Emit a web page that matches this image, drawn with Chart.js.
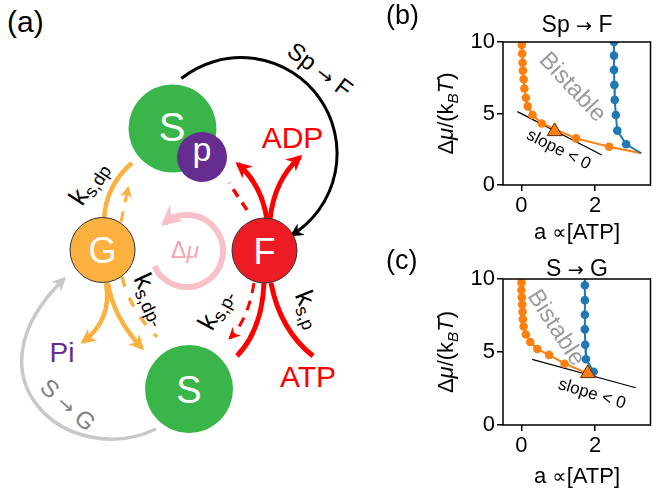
<!DOCTYPE html>
<html>
<head>
<meta charset="UTF-8">
<title>Sp - F bistability</title>
<script src="https://cdn.jsdelivr.net/npm/chart.js@4"></script>
<style>
  body { margin: 0; background: #fff; }
  #wrap { position: relative; width: 660px; height: 491px; overflow: hidden; background: #fff; }
  #wrap svg { position: absolute; left: 0; top: 0; }
  #wrap canvas { position: absolute; }
</style>
</head>
<body>
<div id="wrap">
<svg width="380" height="491" font-family="Liberation Sans, Arial, sans-serif">
  <defs>
    <marker id="mBlack" viewBox="0 0 10 10" refX="8" refY="5" markerWidth="4.5" markerHeight="4.5" orient="auto"><path d="M0,0 L10,5 L0,10 L3,5 z" fill="#000"/></marker>
    <marker id="mRed" viewBox="0 0 10 10" refX="8" refY="5" markerWidth="3.2" markerHeight="3.2" orient="auto"><path d="M0,0 L10,5 L0,10 L3,5 z" fill="#ff0000"/></marker>
    <marker id="mRedS" viewBox="0 0 10 10" refX="8" refY="5" markerWidth="4" markerHeight="4" orient="auto"><path d="M0,0 L10,5 L0,10 L3,5 z" fill="#ff0000"/></marker>
    <marker id="mOrange" viewBox="0 0 10 10" refX="8" refY="5" markerWidth="3.4" markerHeight="3.4" orient="auto"><path d="M0,0 L10,5 L0,10 L3,5 z" fill="#fbb040"/></marker>
    <marker id="mOrangeS" viewBox="0 0 10 10" refX="8" refY="5" markerWidth="4" markerHeight="4" orient="auto"><path d="M0,0 L10,5 L0,10 L3,5 z" fill="#fbb040"/></marker>
    <marker id="mGray" viewBox="0 0 10 10" refX="8" refY="5" markerWidth="4" markerHeight="4" orient="auto"><path d="M0,0 L10,5 L0,10 L3,5 z" fill="#c8c8c8"/></marker>
    <marker id="mPink" viewBox="0 0 10 10" refX="8" refY="5" markerWidth="3.4" markerHeight="3.4" orient="auto"><path d="M0,0 L10,5 L0,10 L3,5 z" fill="#f8c0c8"/></marker>
  </defs>

  <text x="7" y="32" font-size="30">(a)</text>

  <!-- Sp -> F -->
  <path d="M 181.3 78.5 A 96 96 0 1 1 292 235" fill="none" stroke="#000" stroke-width="3" marker-end="url(#mBlack)"/>
  <text transform="translate(320,70) rotate(37)" text-anchor="middle" y="8" font-size="24">Sp <tspan font-family="DejaVu Sans" font-size="20">→</tspan> F</text>

  <!-- S -> G -->
  <path d="M 156 429 C 70 470, -40 380, 64 279" fill="none" stroke="#c8c8c8" stroke-width="3.5" marker-end="url(#mGray)"/>
  <text transform="translate(68,405) rotate(42)" text-anchor="middle" y="8" font-size="24" fill="#808080">S <tspan font-family="DejaVu Sans" font-size="20">→</tspan> G</text>

  <!-- delta mu cycle -->
  <path d="M 154.4 266.2 A 36 36 0 1 0 163.9 223.4" fill="none" stroke="#f8c0c8" stroke-width="6" marker-end="url(#mPink)"/>
  <text x="185" y="258" text-anchor="middle" font-size="23" fill="#f4a5b0">Δ<tspan font-style="italic">μ</tspan></text>

  <!-- orange (G) arrows -->
  <path d="M 104 219 Q 106 185 132 163" fill="none" stroke="#fbb040" stroke-width="4.5"/>
  <path d="M 121 222 L 128 188" fill="none" stroke="#fbb040" stroke-width="3" stroke-dasharray="11 9" marker-end="url(#mOrangeS)"/>
  <path d="M 106 283 C 110 305, 105 325, 83 342" fill="none" stroke="#fbb040" stroke-width="4.5" marker-end="url(#mOrange)"/>
  <path d="M 108 283 C 112 310, 125 330, 142 348" fill="none" stroke="#fbb040" stroke-width="4.5" marker-end="url(#mOrange)"/>
  <path d="M 122 277 Q 130 310 157 337" fill="none" stroke="#fbb040" stroke-width="3.5" stroke-dasharray="10 12"/>

  <!-- red (F) arrows -->
  <path d="M 267 220 Q 262 185 238 164" fill="none" stroke="#ff0000" stroke-width="5" marker-end="url(#mRed)"/>
  <path d="M 270 220 Q 274 180 300 157" fill="none" stroke="#ff0000" stroke-width="5" marker-end="url(#mRed)"/>
  <path d="M 247 210 L 229 183" fill="none" stroke="#ff0000" stroke-width="3.5" stroke-dasharray="9 7"/>
  <path d="M 264 283 Q 262 330 237 356" fill="none" stroke="#ff0000" stroke-width="5"/>
  <path d="M 271 283 Q 280 330 313 356" fill="none" stroke="#ff0000" stroke-width="5"/>
  <path d="M 254 283 Q 248 320 230 338" fill="none" stroke="#ff0000" stroke-width="3" stroke-dasharray="10 8" marker-end="url(#mRedS)"/>

  <!-- nodes -->
  <circle cx="172.5" cy="128.5" r="44" fill="#39b54a"/>
  <text x="172" y="141" text-anchor="middle" font-size="40" fill="#fff">S</text>
  <circle cx="202" cy="157" r="25" fill="#662d91"/>
  <text x="202" y="161" text-anchor="middle" font-size="34" fill="#fff">p</text>
  <circle cx="102.5" cy="250" r="32.5" fill="#fbb040" stroke="#333" stroke-width="1"/>
  <text x="102.5" y="263" text-anchor="middle" font-size="36" fill="#fff">G</text>
  <circle cx="264.5" cy="250.5" r="32.5" fill="#ed1c24" stroke="#333" stroke-width="1"/>
  <text x="264.5" y="263.5" text-anchor="middle" font-size="36" fill="#fff">F</text>
  <circle cx="189" cy="389" r="44" fill="#39b54a"/>
  <text x="189" y="402.5" text-anchor="middle" font-size="38" fill="#fff">S</text>

  <!-- labels -->
  <text x="292.5" y="148" text-anchor="middle" font-size="30" fill="#ff0000">ADP</text>
  <text x="308" y="387" text-anchor="middle" font-size="30" fill="#ff0000">ATP</text>
  <text x="62" y="362" text-anchor="middle" font-size="28" fill="#662d91">Pi</text>
  <text transform="translate(90,184) rotate(-57)" text-anchor="middle" y="6" font-size="26">k<tspan font-size="18" dy="5">s,dp</tspan></text>
  <text transform="translate(150,300) rotate(65)" text-anchor="middle" y="6" font-size="26">k<tspan font-size="18" dy="5">s,dp-</tspan></text>
  <text transform="translate(217,310) rotate(-62)" text-anchor="middle" y="6" font-size="26">k<tspan font-size="18" dy="5">s,p-</tspan></text>
  <text transform="translate(307,310) rotate(68)" text-anchor="middle" y="6" font-size="26">k<tspan font-size="18" dy="5">s,p</tspan></text>
</svg>
<canvas id="chartB" width="280" height="245" style="left:380px;top:0px"></canvas>
<canvas id="chartC" width="280" height="246" style="left:380px;top:245px"></canvas>
</div>

<script>
// axes
const xTicks = [0, 2];
const yTicks = [0, 5, 10];

// (b) Sp -> F
const orangeB_a  = [0.01, 0.01, 0.02, 0.03, 0.04, 0.06, 0.08, 0.12, 0.17, 0.3, 0.55, 1.48, 2.38, 3.25];
const orangeB_mu = [10.0, 9.8, 9.2, 8.55, 8.0, 7.4, 6.75, 6.1, 5.5, 4.9, 4.3, 3.26, 2.68, 2.22];
const blueB_a  = [2.51, 2.51, 2.51, 2.52, 2.53, 2.56, 2.6, 2.84, 3.25];
const blueB_mu = [10.0, 9.05, 8.05, 7.0, 5.95, 4.9, 3.8, 2.85, 2.22];
const triB_a = [0.9];
const triB_mu = [3.75];
const tanB_a  = [-0.11, 2.18];
const tanB_mu = [5.13, 2.1];

// (c) S -> G
const orangeC_a  = [0.0, 0.0, 0.0, 0.01, 0.02, 0.03, 0.04, 0.06, 0.12, 0.24, 0.43, 0.75, 1.17, 1.8];
const orangeC_mu = [10.0, 9.75, 9.25, 8.75, 8.25, 7.75, 7.25, 6.75, 6.2, 5.68, 5.2, 4.8, 4.2, 3.54];
const blueC_a  = [1.72, 1.72, 1.72, 1.72, 1.72, 1.73, 1.75, 1.96];
const blueC_mu = [10.0, 9.57, 8.55, 7.55, 6.55, 5.5, 4.5, 3.65];
const triC_a = [1.8];
const triC_mu = [3.54];
const tanC_a  = [0.29, 3.1];
const tanC_mu = [4.5, 2.55];

const FONT = 'Liberation Sans, Arial, sans-serif';
const ORANGE = '#ff7f0e';
const BLUE = '#1f77b4';

function pts(xs, ys) {
  return xs.map((v, i) => ({x: v, y: ys[i]}));
}

// dot on every point except the open ends of a curve
function radii(n, noDot) {
  const r = [];
  for (let i = 0; i < n; i++) r.push(noDot.includes(i) ? 0 : 4.3);
  return r;
}

function richText(ctx, parts, size) {
  const fontOf = p => (p.it ? 'italic ' : '') + (p.sub ? size * 0.7 : (p.s || size)) + 'px ' + (p.fam || FONT);
  let w = 0;
  parts.forEach(p => { ctx.font = fontOf(p); w += ctx.measureText(p.t).width; });
  let xx = -w / 2;
  parts.forEach(p => {
    ctx.font = fontOf(p);
    ctx.fillText(p.t, xx, size * 0.36 + (p.sub ? size * 0.22 : 0));
    xx += ctx.measureText(p.t).width;
  });
}

function makeChart(id, c) {
  const decor = {
    id: 'decor',
    afterDraw(chart) {
      const ctx = chart.ctx, ca = chart.chartArea;
      const sx = chart.scales.x, sy = chart.scales.y;
      ctx.save();
      ctx.strokeStyle = '#000';
      ctx.lineWidth = 1.5;
      ctx.strokeRect(ca.left, ca.top, ca.right - ca.left, ca.bottom - ca.top);

      ctx.fillStyle = '#000';
      ctx.textAlign = 'left';
      ctx.textBaseline = 'alphabetic';
      ctx.font = '27px ' + FONT;
      ctx.fillText(c.panel, 6, c.panelY);

      // title
      ctx.save();
      ctx.translate(197, c.titleY);
      richText(ctx, [{t: c.title[0] + ' '}, {t: '→', fam: 'DejaVu Sans', s: 19}, {t: ' ' + c.title[1]}], 23);
      ctx.restore();

      // axis titles
      ctx.save();
      ctx.translate(65, (ca.top + ca.bottom) / 2);
      ctx.rotate(-Math.PI / 2);
      richText(ctx, [{t: 'Δ'}, {t: 'μ', it: true}, {t: '/(k'}, {t: 'B', it: true, sub: true}, {t: 'T', it: true}, {t: ')'}], 22);
      ctx.restore();
      ctx.save();
      ctx.translate(197, c.xTitleY);
      richText(ctx, [{t: 'a '}, {t: '∝', fam: 'DejaVu Sans', s: 20}, {t: '[ATP]'}], 22);
      ctx.restore();

      // annotations placed in data coordinates
      ctx.save();
      ctx.translate(sx.getPixelForValue(c.bist[0]), sy.getPixelForValue(c.bist[1]));
      ctx.rotate(c.bist[2] * Math.PI / 180);
      ctx.fillStyle = '#9b9b9b';
      ctx.font = '24px ' + FONT;
      ctx.textAlign = 'center';
      ctx.textBaseline = 'middle';
      ctx.fillText('Bistable', 0, 0);
      ctx.restore();

      ctx.save();
      ctx.translate(sx.getPixelForValue(c.slope[0]), sy.getPixelForValue(c.slope[1]));
      ctx.rotate(c.slope[2] * Math.PI / 180);
      ctx.fillStyle = '#000';
      ctx.font = '17px ' + FONT;
      ctx.textAlign = 'center';
      ctx.textBaseline = 'middle';
      ctx.fillText('slope < 0', 0, 0);
      ctx.restore();

      ctx.restore();
    }
  };

  const tickFont = {family: FONT, size: 22};
  return new Chart(document.getElementById(id), {
    type: 'scatter',
    data: {
      datasets: [
        {data: pts(c.tri[0], c.tri[1]), pointStyle: 'triangle', pointRadius: 8.5,
         backgroundColor: ORANGE, borderColor: '#5a2a00', borderWidth: 1, showLine: false},
        {data: pts(c.blue[0], c.blue[1]), showLine: true, borderColor: BLUE, borderWidth: 2,
         backgroundColor: BLUE, pointBorderWidth: 0, pointRadius: radii(c.blue[0].length, c.blueNoDot)},
        {data: pts(c.orange[0], c.orange[1]), showLine: true, borderColor: ORANGE, borderWidth: 2,
         backgroundColor: ORANGE, pointBorderWidth: 0, pointRadius: radii(c.orange[0].length, c.orangeNoDot)},
        {data: pts(c.tan[0], c.tan[1]), showLine: true, borderColor: '#000', borderWidth: 1.2, pointRadius: 0}
      ]
    },
    options: {
      responsive: false,
      animation: false,
      events: [],
      layout: {padding: {top: c.top, right: 2, left: 0, bottom: 0}},
      plugins: {legend: {display: false}, tooltip: {enabled: false}},
      scales: {
        x: {
          type: 'linear', min: -0.5, max: 3.5,
          afterBuildTicks: s => { s.ticks = xTicks.map(v => ({value: v})); },
          afterFit: s => { s.height = c.xh; },
          border: {display: false},
          grid: {drawOnChartArea: false, drawTicks: true, tickLength: 6, color: '#000', lineWidth: 1.5},
          ticks: {font: tickFont, color: '#000', padding: 2, maxRotation: 0}
        },
        y: {
          type: 'linear', min: 0, max: 10,
          afterBuildTicks: s => { s.ticks = yTicks.map(v => ({value: v})); },
          afterFit: s => { s.width = 123; },
          border: {display: false},
          grid: {drawOnChartArea: false, drawTicks: true, tickLength: 6, color: '#000', lineWidth: 1.5},
          ticks: {font: tickFont, color: '#000', padding: 2}
        }
      }
    },
    plugins: [decor]
  });
}

makeChart('chartB', {
  orange: [orangeB_a, orangeB_mu], orangeNoDot: [0, 13],
  blue: [blueB_a, blueB_mu], blueNoDot: [8],
  tri: [triB_a, triB_mu], tan: [tanB_a, tanB_mu],
  top: 42, xh: 60, panel: '(b)', panelY: 24, title: ['Sp', 'F'], titleY: 24, xTitleY: 231,
  bist: [1.38, 6.82, 47], slope: [1.01, 2.45, 27]
});

makeChart('chartC', {
  orange: [orangeC_a, orangeC_mu], orangeNoDot: [0, 13],
  blue: [blueC_a, blueC_mu], blueNoDot: [0],
  tri: [triC_a, triC_mu], tan: [tanC_a, tanC_mu],
  top: 34, xh: 66, panel: '(c)', panelY: 24, title: ['S', 'G'], titleY: 23, xTitleY: 230,
  bist: [0.93, 6.64, 57], slope: [1.91, 2.12, 17]
});
</script>
</body>
</html>
